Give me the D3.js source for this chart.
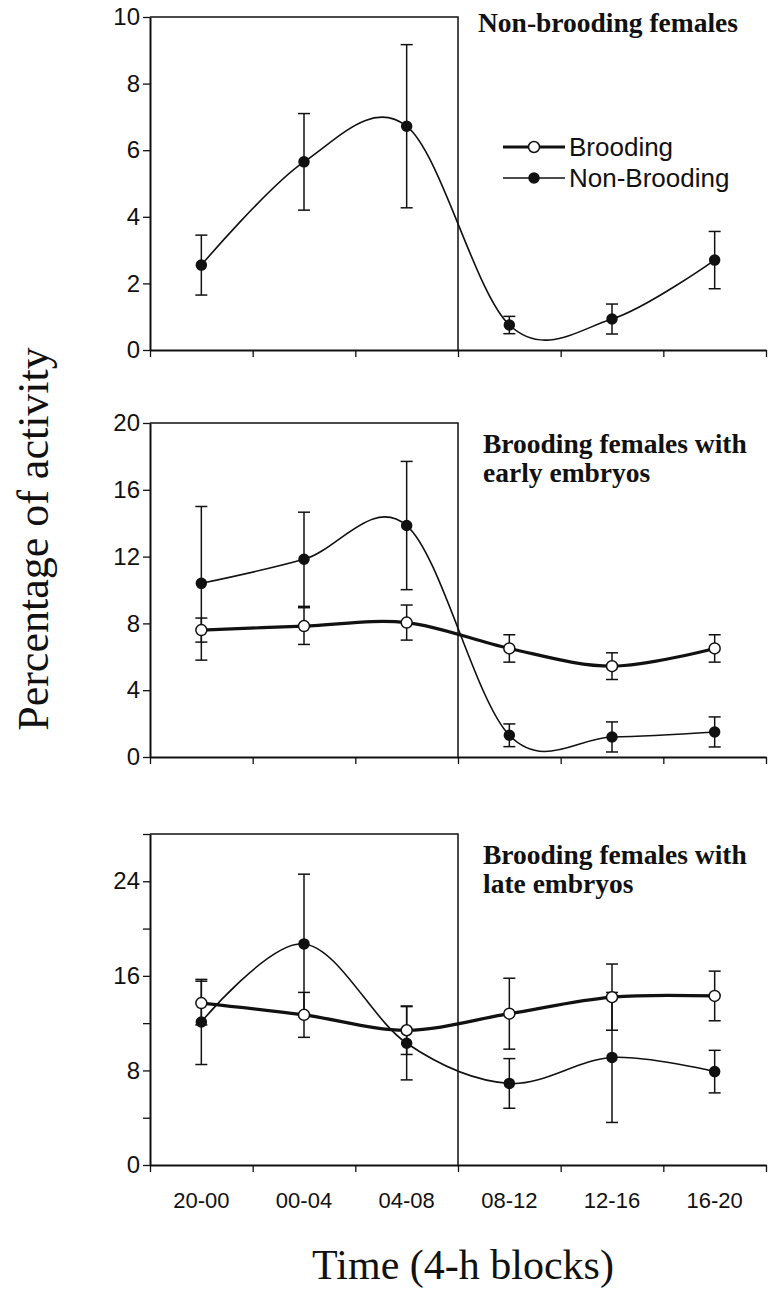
<!DOCTYPE html>
<html>
<head>
<meta charset="utf-8">
<script src="https://d3js.org/d3.v7.min.js"></script>
<style>
  body { margin: 0; background: #fff; }
  svg { display: block; }
  .tick text { font-family: "Liberation Sans", Arial, sans-serif; }
</style>
</head>
<body>
<div id="chart"></div>
<script>
// time blocks on the x axis
var blocks = ["20-00", "00-04", "04-08", "08-12", "12-16", "16-20"];

// panel 1: non-brooding females (only the non-brooding series)
var p1NonMean = [2.55, 5.65, 6.72, 0.75, 0.93, 2.7];
var p1NonSE   = [0.9, 1.45, 2.45, 0.26, 0.45, 0.86];

// panel 2: brooding females with early embryos
var p2BroodMean = [7.6, 7.84, 8.05, 6.5, 5.44, 6.5];
var p2BroodSE   = [0.72, 1.1, 1.05, 0.82, 0.8, 0.82];
var p2NonMean   = [10.4, 11.84, 13.86, 1.3, 1.2, 1.5];
var p2NonSE     = [4.6, 2.82, 3.84, 0.68, 0.9, 0.9];

// panel 3: brooding females with late embryos
var p3BroodMean = [13.7, 12.7, 11.4, 12.8, 14.2, 14.3];
var p3BroodSE   = [1.85, 1.9, 2.05, 3.0, 2.8, 2.1];
var p3NonMean   = [12.1, 18.7, 10.3, 6.9, 9.1, 7.9];
var p3NonSE     = [3.6, 5.9, 3.1, 2.1, 5.5, 1.8];

var panelTitles = [
  ["Non-brooding females"],
  ["Brooding females with", "early embryos"],
  ["Brooding females with", "late embryos"]
];
var yMax = [10, 20, 28];
var yStep = [2, 4, 4];
var yLabelStep = [2, 4, 8];
var legendNames = ["Brooding", "Non-Brooding"];

var width = 768, height = 1289;
var left = 150, right = 766;
var panelTop = [17, 423, 834];
var panelBottom = [350, 757, 1165];

var svg = d3.select("#chart").append("svg")
    .attr("width", width).attr("height", height);

var xEdge = d3.scaleLinear().domain([0, 6]).range([left, right]);
var xBand = d3.scaleBand().domain(blocks).range([left, right]);
function cx(i) { return xBand(blocks[i]) + xBand.bandwidth() / 2; }

var panels = [
  { series: [{ mean: p1NonMean, se: p1NonSE, brood: false }] },
  { series: [{ mean: p2BroodMean, se: p2BroodSE, brood: true },
             { mean: p2NonMean, se: p2NonSE, brood: false }] },
  { series: [{ mean: p3BroodMean, se: p3BroodSE, brood: true },
             { mean: p3NonMean, se: p3NonSE, brood: false }] }
];

panels.forEach(function(p, k) {
  var y = d3.scaleLinear().domain([0, yMax[k]]).range([panelBottom[k], panelTop[k]]);
  var g = svg.append("g");

  // night box (top + right edge)
  g.append("path")
    .attr("d", "M" + left + "," + y(yMax[k]) + "H" + xEdge(3) + "V" + y(0))
    .attr("fill", "none").attr("stroke", "#111").attr("stroke-width", 1.5);

  // y axis
  var ticks = d3.range(0, yMax[k] + 0.001, yStep[k]);
  var yAxis = d3.axisLeft(y).tickValues(ticks).tickSize(7).tickSizeOuter(0)
    .tickPadding(3)
    .tickFormat(function(d) { return d % yLabelStep[k] === 0 && d !== 28 ? d : ""; });
  var ya = g.append("g").attr("transform", "translate(" + left + ",0)").call(yAxis);
  ya.select(".domain").attr("stroke", "#111").attr("stroke-width", 2);
  ya.selectAll(".tick line").attr("stroke", "#111").attr("stroke-width", 1.3);
  ya.selectAll(".tick text").attr("font-size", 24).attr("fill", "#111");

  // x axis
  var xAxis = d3.axisBottom(xEdge).tickValues(d3.range(0, 7)).tickSize(7)
    .tickSizeOuter(0).tickFormat("");
  var xa = g.append("g").attr("transform", "translate(0," + y(0) + ")").call(xAxis);
  xa.select(".domain").attr("stroke", "#111").attr("stroke-width", 1.8);
  xa.selectAll(".tick line").attr("stroke", "#111").attr("stroke-width", 1.3);

  // title
  var t = g.append("text")
    .attr("font-family", "'Liberation Serif', 'Times New Roman', serif")
    .attr("font-weight", "bold").attr("font-size", 27.5).attr("fill", "#111");
  var tx = k === 0 ? 478 : 483;
  var ty = k === 0 ? 32 : panelTop[k] + 30;
  panelTitles[k].forEach(function(line, j) {
    t.append("tspan").attr("x", tx).attr("y", ty + j * 29).text(line);
  });

  var line = d3.line().curve(d3.curveCardinal.tension(0))
    .x(function(d, i) { return cx(i); })
    .y(function(d) { return y(d); });

  // error bars first
  p.series.forEach(function(s) {
    var eb = g.append("g").attr("stroke", "#111").attr("stroke-width", 1.5);
    s.mean.forEach(function(m, i) {
      var hi = y(m + s.se[i]), lo = y(Math.max(0, m - s.se[i]));
      eb.append("line").attr("x1", cx(i)).attr("x2", cx(i)).attr("y1", hi).attr("y2", lo);
      eb.append("line").attr("x1", cx(i) - 6).attr("x2", cx(i) + 6).attr("y1", hi).attr("y2", hi);
      eb.append("line").attr("x1", cx(i) - 6).attr("x2", cx(i) + 6).attr("y1", lo).attr("y2", lo);
    });
  });

  p.series.forEach(function(s) {
    g.append("path").datum(s.mean).attr("d", line)
      .attr("fill", "none").attr("stroke", "#111")
      .attr("stroke-width", s.brood ? 3.2 : 1.6);
  });

  p.series.forEach(function(s) {
    g.selectAll(null).data(s.mean).enter().append("circle")
      .attr("cx", function(d, i) { return cx(i); })
      .attr("cy", function(d) { return y(d); })
      .attr("r", s.brood ? 5.5 : 5)
      .attr("fill", s.brood ? "#fff" : "#111")
      .attr("stroke", "#111").attr("stroke-width", 1.5);
  });
});

// x tick labels under the last panel
svg.append("g").selectAll("text").data(blocks).enter().append("text")
  .attr("x", function(d, i) { return cx(i); })
  .attr("y", 1208)
  .attr("text-anchor", "middle")
  .attr("font-family", "'Liberation Sans', Arial, sans-serif")
  .attr("font-size", 22).attr("fill", "#111")
  .text(function(d) { return d; });

// legend
var lg = svg.append("g");
legendNames.forEach(function(name, i) {
  var ly = 147 + i * 31;
  lg.append("line").attr("x1", 503).attr("x2", 565).attr("y1", ly).attr("y2", ly)
    .attr("stroke", "#111").attr("stroke-width", i === 0 ? 3.2 : 1.6);
  lg.append("circle").attr("cx", 534).attr("cy", ly).attr("r", i === 0 ? 5.5 : 5)
    .attr("fill", i === 0 ? "#fff" : "#111").attr("stroke", "#111").attr("stroke-width", 1.5);
  lg.append("text").attr("x", 569).attr("y", ly).attr("dy", "0.35em")
    .attr("font-family", "'Liberation Sans', Arial, sans-serif")
    .attr("font-size", 26).attr("fill", "#111").text(name);
});

// axis titles
svg.append("text")
  .attr("transform", "translate(48,539) rotate(-90)")
  .attr("text-anchor", "middle")
  .attr("font-family", "'Liberation Serif', 'Times New Roman', serif")
  .attr("font-size", 44).attr("fill", "#111")
  .text("Percentage of activity");

svg.append("text")
  .attr("x", 463).attr("y", 1279)
  .attr("text-anchor", "middle")
  .attr("font-family", "'Liberation Serif', 'Times New Roman', serif")
  .attr("font-size", 42).attr("fill", "#111")
  .text("Time (4-h blocks)");
</script>
</body>
</html>
